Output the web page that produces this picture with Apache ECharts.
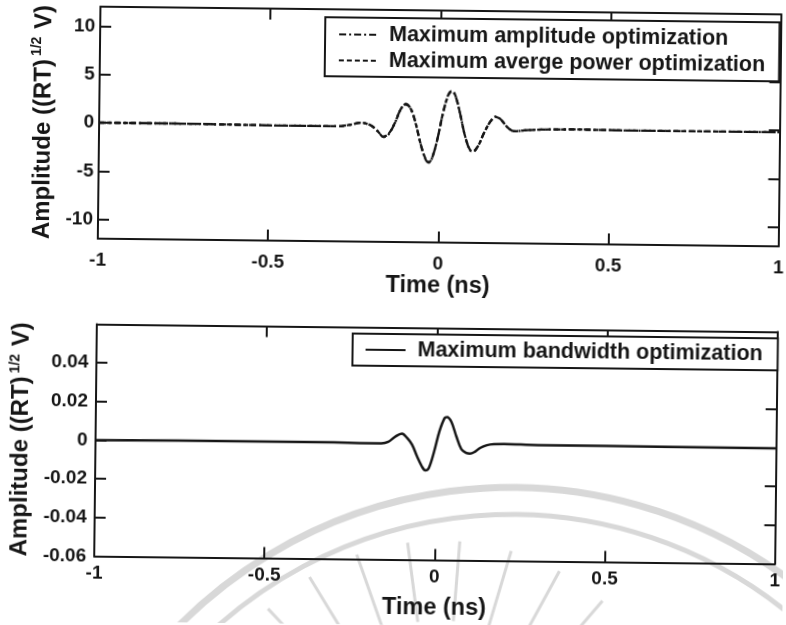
<!DOCTYPE html>
<html>
<head>
<meta charset="utf-8">
<script src="https://cdn.jsdelivr.net/npm/echarts@6/dist/echarts.min.js"></script>
<style>
  html, body { margin: 0; padding: 0; background: #fff; overflow: hidden; }
  #main { width: 786px; height: 625px; transform: rotate(0.65deg); transform-origin: 393px 312px; }
</style>
</head>
<body>
<div id="main"></div>
<script>
// ---- Data ----
var xTicks = [-1, -0.5, 0, 0.5, 1];
var yTicksTop = [-10, -5, 0, 5, 10];
var yTicksBot = [-0.06, -0.04, -0.02, 0, 0.02, 0.04];

var tTop = [-1, -0.8, -0.6, -0.4, -0.3, -0.26, -0.23, -0.2, -0.18, -0.165, -0.15, -0.13, -0.115, -0.1, -0.085, -0.07, -0.055, -0.04, -0.03, -0.02, -0.005, 0.01, 0.025, 0.035, 0.045, 0.06, 0.075, 0.09, 0.1, 0.115, 0.13, 0.15, 0.165, 0.18, 0.2, 0.22, 0.25, 0.3, 0.4, 0.6, 0.8, 1];
var ampOpt = [0, 0, -0.05, -0.1, -0.1, 0.1, 0.3, 0.0, -0.6, -1.15, -0.9, 0.4, 1.7, 2.3, 1.8, 0.3, -1.8, -3.4, -3.75, -3.2, -1.2, 1.4, 3.3, 3.7, 3.3, 1.4, -0.9, -2.4, -2.55, -1.9, -0.7, 0.6, 1.1, 0.8, 0.0, -0.4, -0.3, -0.2, -0.15, -0.2, -0.2, -0.2];
var powOpt = [0, 0, -0.05, -0.1, -0.1, 0.1, 0.3, 0.0, -0.6, -1.1, -0.85, 0.4, 1.7, 2.25, 1.8, 0.3, -1.8, -3.35, -3.7, -3.2, -1.2, 1.4, 3.25, 3.65, 3.3, 1.4, -0.9, -2.35, -2.5, -1.9, -0.7, 0.6, 1.05, 0.8, 0.0, -0.4, -0.3, -0.2, -0.15, -0.2, -0.2, -0.2];

var tBot = [-1, -0.6, -0.4, -0.3, -0.2, -0.16, -0.14, -0.12, -0.1, -0.085, -0.07, -0.055, -0.04, -0.03, -0.02, -0.005, 0.01, 0.025, 0.032, 0.045, 0.06, 0.075, 0.09, 0.1, 0.115, 0.13, 0.15, 0.17, 0.2, 0.3, 0.5, 1];
var bwOpt = [0, 0.0003, 0.0003, 0.0002, 0.0, 0.0, 0.0008, 0.0035, 0.0052, 0.003, -0.0005, -0.0065, -0.0118, -0.0137, -0.0125, -0.004, 0.0065, 0.0135, 0.014, 0.0115, 0.004, -0.0025, -0.0045, -0.0048, -0.0038, -0.0018, -0.0003, 0.0003, 0.0004, 0.0, 0.0, -0.0003];

var names = ['Maximum amplitude optimization', 'Maximum averge power optimization', 'Maximum bandwidth optimization'];

function pairs(xs, ys) { return xs.map(function (x, i) { return [x, ys[i]]; }); }

var INK = '#161616';
var FONT = '"Liberation Sans", Arial, sans-serif';
var WM = '#d8d8d8';

function xAx(grid, pos, withLabel, gap, margin) {
  return {
    type: 'value', gridIndex: grid, position: pos, min: -1, max: 1, interval: 0.5,
    axisLine: { show: true, onZero: false, lineStyle: { color: INK, width: 2 } },
    axisTick: { show: true, inside: true, length: 11, lineStyle: { color: INK, width: 2 } },
    axisLabel: { show: withLabel, fontFamily: FONT, fontSize: 19, fontWeight: 'bold', color: INK, margin: margin },
    splitLine: { show: false },
    name: withLabel ? 'Time (ns)' : '', nameLocation: 'middle', nameGap: gap,
    nameTextStyle: { fontFamily: FONT, fontSize: 23.5, fontWeight: 'bold', color: INK }
  };
}
function yAx(grid, pos, withLabel, mn, mx, ticks, gap, margin) {
  return {
    type: 'value', gridIndex: grid, position: pos, min: mn, max: mx,
    axisLine: { show: true, onZero: false, lineStyle: { color: INK, width: 2 } },
    axisTick: { show: true, inside: true, length: 11, customValues: ticks, lineStyle: { color: INK, width: 2 } },
    axisLabel: { show: withLabel, customValues: ticks, fontFamily: FONT, fontSize: 19, fontWeight: 'bold', color: INK, margin: margin },
    splitLine: { show: false },
    name: withLabel ? '{a|Amplitude ((RT)}{s|1/2}{a| V)}' : '', nameLocation: 'middle', nameRotate: 90, nameGap: gap,
    nameTextStyle: {
      rich: {
        a: { fontFamily: FONT, fontSize: 24, fontWeight: 'bold', color: INK, lineHeight: 26, verticalAlign: 'bottom' },
        s: { fontFamily: FONT, fontSize: 14, fontWeight: 'bold', color: INK, lineHeight: 26, verticalAlign: 'top', padding: [0, 1, 0, 3] }
      }
    }
  };
}

// faint watermark seal visible in the scanned reference (decoration only)
var graphics = [
  { type: 'arc', z: 0, silent: true, shape: { cx: 518, cy: 953, r: 467, startAngle: -2.5, endAngle: -0.8 }, style: { stroke: WM, lineWidth: 7, fill: null } },
  { type: 'arc', z: 0, silent: true, shape: { cx: 518, cy: 953, r: 440, startAngle: -2.45, endAngle: -0.85 }, style: { stroke: WM, lineWidth: 5, fill: null } }
];
var rayAngles = [-158, -146, -134, -122, -110, -98, -86, -74, -62, -50, -38, -26];
rayAngles.forEach(function (a) {
  var rad = a * Math.PI / 180;
  var cx = 445, cy = 790, r1 = 170, r2 = 250;
  graphics.push({ type: 'line', z: 0, silent: true,
    shape: { x1: cx + r1 * Math.cos(rad), y1: cy + r1 * Math.sin(rad), x2: cx + r2 * Math.cos(rad), y2: cy + r2 * Math.sin(rad) },
    style: { stroke: WM, lineWidth: 3 } });
});

var chart = echarts.init(document.getElementById('main'), null, { renderer: 'canvas' });
chart.setOption({
  backgroundColor: '#fff',
  animation: false,
  graphic: { elements: graphics },
  grid: [
    { left: 97, top: 10, width: 688, height: 232 },
    { left: 97, top: 327.5, width: 688, height: 232 }
  ],
  xAxis: [
    xAx(0, 'bottom', true, 28, 12),
    xAx(0, 'top', false, 0, 0),
    xAx(1, 'bottom', true, 36, 8),
    xAx(1, 'top', false, 0, 0)
  ],
  yAxis: [
    yAx(0, 'left', true, -12, 12, yTicksTop, 30, 5),
    yAx(0, 'right', false, -12, 12, yTicksTop, 0, 0),
    yAx(1, 'left', true, -0.06, 0.06, yTicksBot, 53, 8),
    yAx(1, 'right', false, -0.06, 0.06, yTicksBot, 0, 0)
  ],
  legend: [
    {
      data: [names[0], names[1]], orient: 'vertical', left: 322, top: 18,
      padding: [6, 14, 5, 13], itemGap: 4, itemWidth: 37, itemHeight: 14,
      backgroundColor: '#fff', borderColor: INK, borderWidth: 2, borderRadius: 0,
      selectedMode: false,
      itemStyle: { color: 'rgba(0,0,0,0)', borderWidth: 0, opacity: 0 },
      textStyle: { fontFamily: FONT, fontSize: 21.5, fontWeight: 'bold', color: INK, padding: [0, 0, 0, 8] }
    },
    {
      data: [names[2]], orient: 'vertical', left: 353, top: 334,
      padding: [5, 15, 5, 12], itemWidth: 40, itemHeight: 14,
      backgroundColor: '#fff', borderColor: INK, borderWidth: 2, borderRadius: 0,
      selectedMode: false,
      itemStyle: { color: 'rgba(0,0,0,0)', borderWidth: 0, opacity: 0 },
      textStyle: { fontFamily: FONT, fontSize: 21.5, fontWeight: 'bold', color: INK, padding: [0, 0, 0, 7] }
    }
  ],
  series: [
    { name: names[0], type: 'line', xAxisIndex: 0, yAxisIndex: 0, data: pairs(tTop, ampOpt), z: 3,
      symbol: 'none', smooth: 0.35, lineStyle: { color: INK, width: 2.3, type: [7, 3, 2, 3] }, itemStyle: { color: INK } },
    { name: names[1], type: 'line', xAxisIndex: 0, yAxisIndex: 0, data: pairs(tTop, powOpt), z: 3,
      symbol: 'none', smooth: 0.35, lineStyle: { color: INK, width: 2.3, type: [5, 3] }, itemStyle: { color: INK } },
    { name: names[2], type: 'line', xAxisIndex: 2, yAxisIndex: 2, data: pairs(tBot, bwOpt), z: 3,
      symbol: 'none', smooth: 0.35, lineStyle: { color: INK, width: 2.5, type: 'solid' }, itemStyle: { color: INK } }
  ]
});
</script>
</body>
</html>
